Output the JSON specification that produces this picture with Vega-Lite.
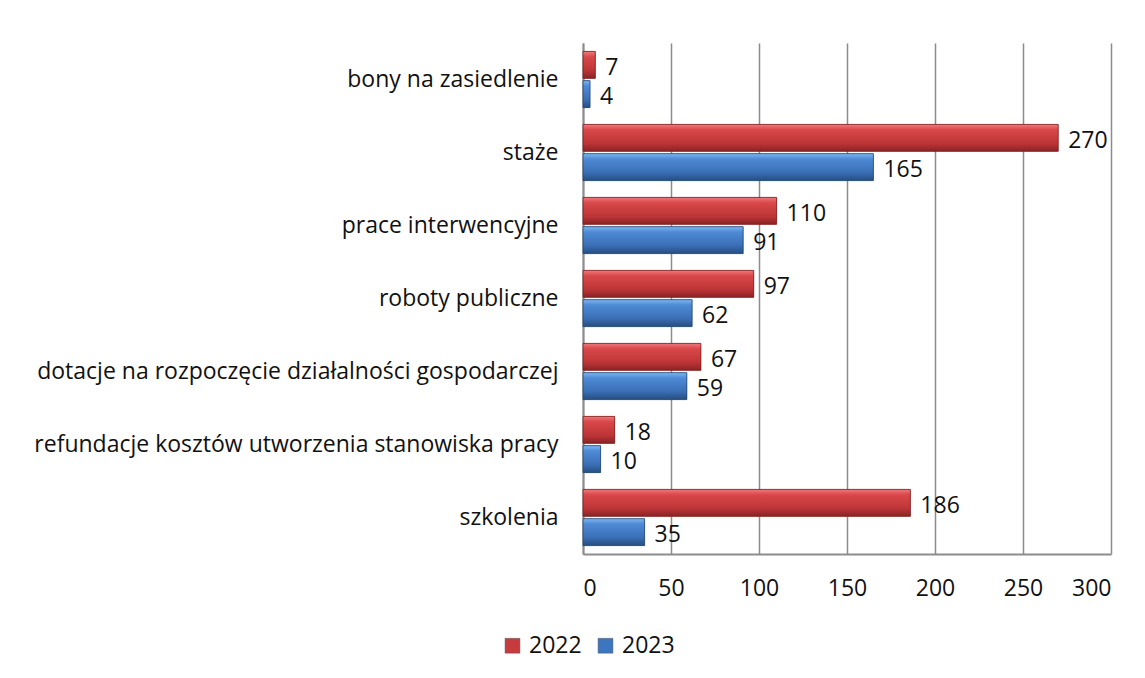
{
  "$schema": "https://vega.github.io/schema/vega-lite/v6.json",
  "width": 528,
  "height": 511,
  "autosize": {"type": "none"},
  "padding": {"left": 583, "top": 43, "right": 34, "bottom": 124},
  "background": "white",
  "config": {
    "font": "Open Sans",
    "view": {"stroke": null}
  },
  "data": {
    "values": [
      {"kategoria": "bony na zasiedlenie", "rok": "2022", "wartosc": 7},
      {"kategoria": "bony na zasiedlenie", "rok": "2023", "wartosc": 4},
      {"kategoria": "staże", "rok": "2022", "wartosc": 270},
      {"kategoria": "staże", "rok": "2023", "wartosc": 165},
      {"kategoria": "prace interwencyjne", "rok": "2022", "wartosc": 110},
      {"kategoria": "prace interwencyjne", "rok": "2023", "wartosc": 91},
      {"kategoria": "roboty publiczne", "rok": "2022", "wartosc": 97},
      {"kategoria": "roboty publiczne", "rok": "2023", "wartosc": 62},
      {"kategoria": "dotacje na rozpoczęcie działalności gospodarczej ", "rok": "2022", "wartosc": 67},
      {"kategoria": "dotacje na rozpoczęcie działalności gospodarczej ", "rok": "2023", "wartosc": 59},
      {"kategoria": "refundacje kosztów utworzenia stanowiska pracy", "rok": "2022", "wartosc": 18},
      {"kategoria": "refundacje kosztów utworzenia stanowiska pracy", "rok": "2023", "wartosc": 10},
      {"kategoria": "szkolenia", "rok": "2022", "wartosc": 186},
      {"kategoria": "szkolenia", "rok": "2023", "wartosc": 35}
    ]
  },
  "encoding": {
    "y": {
      "field": "kategoria",
      "type": "nominal",
      "sort": null,
      "scale": {"paddingInner": 0.23, "paddingOuter": 0.115},
      "axis": {
        "title": null,
        "ticks": false,
        "labelFontSize": 23,
        "labelColor": "#111111",
        "labelPadding": 25,
        "labelLimit": 700,
        "domain": true,
        "domainColor": "#8c8c8c",
        "domainWidth": 2
      }
    },
    "yOffset": {
      "field": "rok",
      "type": "nominal",
      "scale": {"domain": ["2022", "2023"], "paddingInner": 0.08}
    },
    "x": {
      "field": "wartosc",
      "type": "quantitative",
      "scale": {"domain": [0, 300]},
      "axis": {
        "title": null,
        "values": [0, 50, 100, 150, 200, 250, 300],
        "ticks": false,
        "labelFontSize": 23,
        "labelColor": "#111111",
        "labelPadding": 23,
        "grid": true,
        "gridColor": "#8c8c8c",
        "gridWidth": 1.5,
        "domain": true,
        "domainColor": "#8c8c8c",
        "domainWidth": 2
      }
    }
  },
  "layer": [
    {
      "mark": {"type": "bar"},
      "encoding": {
        "color": {
          "field": "rok",
          "type": "nominal",
          "scale": {"domain": ["2022", "2023"], "range": ["#c63b3d", "#3d76c0"]},
          "legend": {
            "title": null,
            "orient": "none",
            "direction": "horizontal",
            "legendX": -82,
            "legendY": 591,
            "symbolType": "square",
            "symbolSize": 220,
            "symbolStrokeColor": "#555555",
            "symbolStrokeWidth": 0.5,
            "symbolOpacity": 1,
            "labelFontSize": 23,
            "labelColor": "#111111",
            "columnPadding": 12,
            "labelOffset": 5
          }
        }
      }
    },
    {
      "transform": [{"filter": "datum.rok == '2022'"}],
      "mark": {
        "type": "bar",
        "stroke": "#7a1f20",
        "strokeWidth": 0.8,
        "fill": {"gradient": "linear", "x1": 0, "y1": 0, "x2": 0, "y2": 1, "stops": [
          {"offset": 0, "color": "#f07a7c"},
          {"offset": 0.2, "color": "#d9484a"},
          {"offset": 0.7, "color": "#be3537"},
          {"offset": 1, "color": "#8a2325"}
        ]}
      },
      "encoding": {}
    },
    {
      "transform": [{"filter": "datum.rok == '2023'"}],
      "mark": {
        "type": "bar",
        "stroke": "#22466f",
        "strokeWidth": 0.8,
        "fill": {"gradient": "linear", "x1": 0, "y1": 0, "x2": 0, "y2": 1, "stops": [
          {"offset": 0, "color": "#7db7f2"},
          {"offset": 0.2, "color": "#4f8ad6"},
          {"offset": 0.7, "color": "#3a6fb5"},
          {"offset": 1, "color": "#264d80"}
        ]}
      },
      "encoding": {}
    },
    {
      "mark": {"type": "text", "align": "left", "baseline": "middle", "dx": 10, "dy": 3, "fontSize": 23, "color": "#111111"},
      "encoding": {
        "text": {"field": "wartosc", "type": "quantitative"}
      }
    }
  ]
}
